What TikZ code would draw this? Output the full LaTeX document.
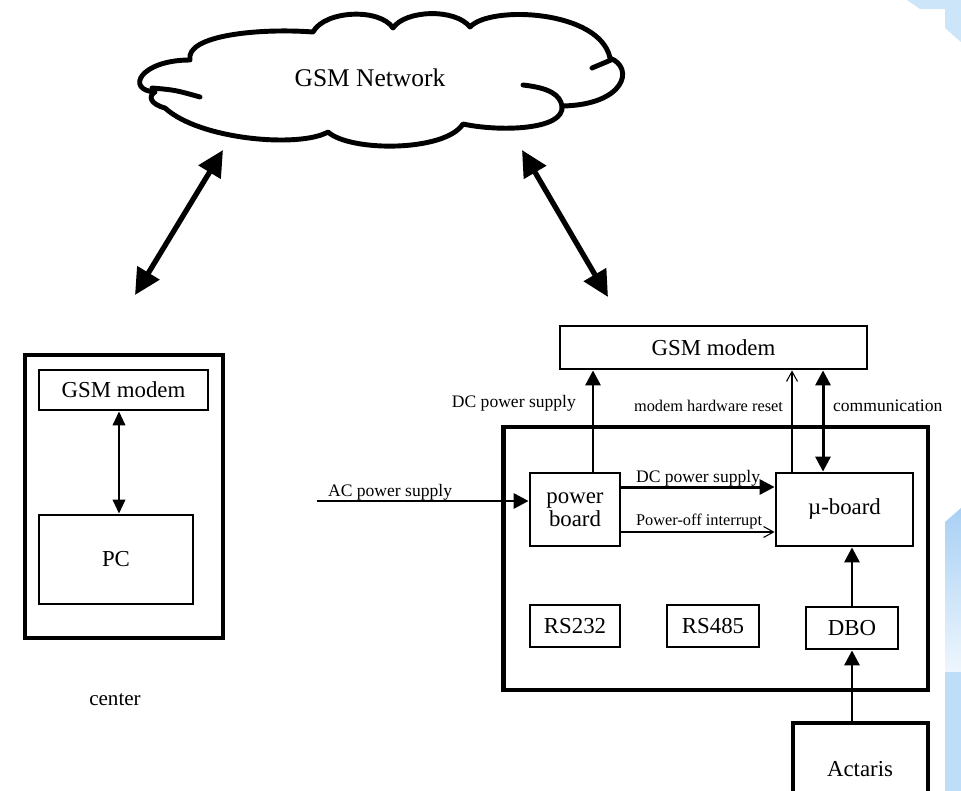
\documentclass[tikz,border=0pt]{standalone}
\usepackage{fontspec}
\setmainfont{Liberation Serif}
\usepackage{tikz}
\usetikzlibrary{
    arrows.meta,
    calc,
    positioning
}
\definecolor{lblue}{RGB}{205,229,248}
\definecolor{sblue}{RGB}{190,222,247}
\definecolor{gtop}{RGB}{168,208,244}
\definecolor{gbot}{RGB}{238,246,253}
\tikzset{
    tri/.tip={Triangle[length=0.3cm,width=0.3cm]},
    btri/.tip={Triangle[length=0.52cm,width=0.5cm]},
    blk/.style={draw=black, line width=1.6pt, inner sep=0pt, align=center, font=\fontsize{13}{13}\selectfont},
    frm/.style={draw=black, line width=2.8pt, inner sep=0pt},
    lbl/.style={inner sep=1pt, font=\fontsize{10}{10}\selectfont},
    slbl/.style={inner sep=1pt, font=\fontsize{9.3}{10}\selectfont},
    thk/.style={line width=1.7pt, -tri},
    thn/.style={line width=0.6pt, -{Straight Barb[length=0.2cm,width=0.22cm]}},
    cloudline/.style={line width=2.8pt, line join=round, line cap=round}
}

\begin{document}
\begin{tikzpicture}[x=0.02cm, y=-0.02cm]
    \useasboundingbox (0,0) rectangle (961,791);

    % light blue shapes at the right edge
    \fill[lblue] (907,0) -- (920,9) -- (945,9) -- (945,28) -- (961,42) -- (961,0) -- cycle;
    \shade[top color=gtop, bottom color=gbot] (945,522) -- (961,508) -- (961,672) -- (945,672) -- cycle;
    \fill[sblue] (945,672) rectangle (961,791);

    % cloud
    \draw[cloudline] (155,92) .. controls (125,90) and (140,60) .. (190,60)
        .. controls (185,35) and (260,28) .. (313,32)
        .. controls (325,10) and (380,8) .. (393,28)
        .. controls (405,10) and (455,8) .. (470,27)
        .. controls (490,5) and (600,10) .. (610,58)
        .. controls (635,68) and (625,105) .. (562,106)
        .. controls (565,130) and (500,132) .. (463,124)
        .. controls (445,152) and (350,152) .. (328,132)
        .. controls (300,148) and (200,140) .. (165,108)
        .. controls (150,104) and (148,96) .. (155,92);
    \draw[cloudline] (152,88) .. controls (175,90) .. (200,97);
    \draw[cloudline] (523,85) .. controls (550,88) and (560,95) .. (562,106);
    \draw[cloudline] (592,68) -- (611,60);
    \node[font=\fontsize{14.5}{15}\selectfont] (net) at (370,78) {GSM Network};

    \coordinate (n1a) at (223,150);
    \coordinate (n1b) at (135,295);
    \coordinate (n2a) at (522,150);
    \coordinate (n2b) at (608,297);
    \draw[line width=3pt, btri-btri] (n1a) -- (n1b);
    \draw[line width=3pt, btri-btri] (n2a) -- (n2b);

    % center
    \node[frm, minimum width=3.96cm, minimum height=5.66cm] (ctr) at (124,496.5) {};
    \node[blk, minimum width=3.38cm, minimum height=0.8cm] (gsma) at (123.5,390) {GSM modem};
    \node[blk, minimum width=3.08cm, minimum height=1.78cm] (pc) at (116,559.5) {PC};
    \draw[line width=1.2pt, {Triangle[length=0.28cm,width=0.25cm]}-{Triangle[length=0.28cm,width=0.25cm]}]
        ([xshift=0.06cm]pc.north |- gsma.south) -- ([xshift=0.06cm]pc.north);
    \node[font=\fontsize{12}{12}\selectfont] (ctrl) at (115,700) {center};

    % terminal
    \node[blk, minimum width=6.14cm, minimum height=0.86cm] (gsmb) at (713.5,347.5) {GSM modem};
    \node[frm, minimum width=8.5cm, minimum height=5.26cm] (term) at (715.5,558.5) {};
    \node[blk, minimum width=1.8cm, minimum height=1.46cm] (pwr) at (575,509.5) {power\\board};
    \node[blk, minimum width=2.74cm, minimum height=1.46cm] (mub) at (844.5,509.5) {µ-board};
    \node[blk, minimum width=1.8cm, minimum height=0.84cm] (rsa) at (575,626) {RS232};
    \node[blk, minimum width=1.84cm, minimum height=0.84cm] (rsb) at (713,626) {RS485};
    \node[blk, minimum width=1.84cm, minimum height=0.84cm] (dbo) at (852,628) {DBO};
    \node[frm, minimum width=2.7cm, minimum height=2.14cm] (act) at (860.5,776.5) {};
    \node[font=\fontsize{13}{13}\selectfont] (actl) at (860,769) {Actaris};

    \coordinate (acin) at (317,501);
    \draw[thk] (acin) -- (acin -| pwr.west);
    \node[lbl, anchor=west] (acl) at (326,492) {AC power supply};

    \draw[thk] ([xshift=0.36cm]pwr.north) -- ([xshift=0.36cm]pwr.north |- gsmb.south);
    \node[lbl, anchor=east] (dcl) at (578,403) {DC power supply};

    \draw[thk] ([yshift=0.45cm]pwr.east) -- ([yshift=0.45cm]mub.west);
    \node[lbl, anchor=west] (dcil) at (634,478) {DC power supply};
    \draw[thn] ([yshift=-0.45cm]pwr.east) -- ([yshift=-0.45cm]mub.west);
    \node[slbl, anchor=west] (pol) at (634,521) {Power-off interrupt};

    \draw[thn] ([xshift=-1.05cm]mub.north) -- ([xshift=-1.05cm]mub.north |- gsmb.south);
    \node[slbl, anchor=east] (rstl) at (785,406) {modem hardware reset};
    \draw[thk, tri-tri] ([xshift=-0.43cm]mub.north) -- ([xshift=-0.43cm]mub.north |- gsmb.south);
    \node[lbl, anchor=west] (coml) at (831,406) {communication};

    \draw[thk] (dbo.north) -- (dbo.north |- mub.south);
    \draw[thk] (dbo.south |- act.north) -- (dbo.south);
\end{tikzpicture}
\end{document}
